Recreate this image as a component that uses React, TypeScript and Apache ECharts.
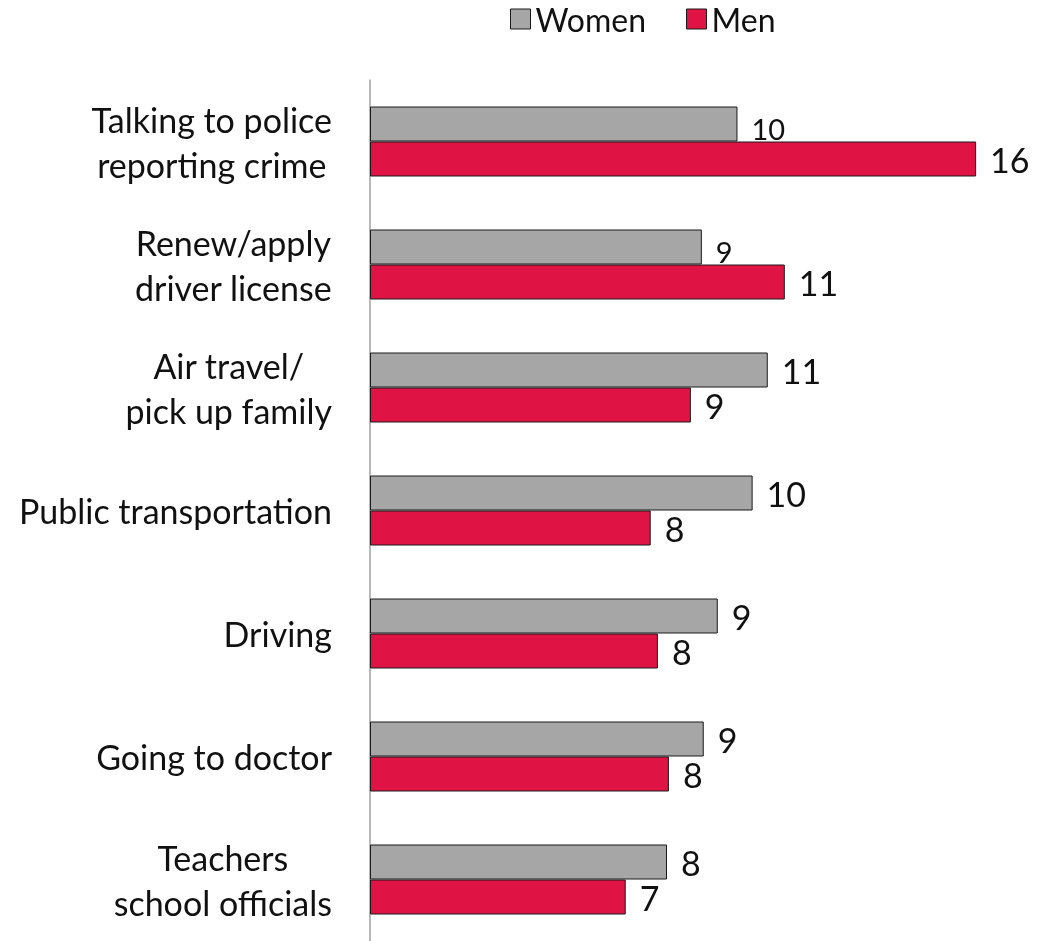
import React, { useEffect, useRef } from "react";
import * as echarts from "echarts";

const categories = [
  "Talking to police\nreporting crime",
  "Renew/apply\ndriver license",
  "Air travel/\npick up family",
  "Public transportation",
  "Driving",
  "Going to doctor",
  "Teachers\nschool officials",
];
const womenValues = [9.7, 8.76, 10.5, 10.1, 9.18, 8.81, 7.84];
const menValues = [16.0, 10.95, 8.47, 7.41, 7.6, 7.89, 6.75];
const womenLabels = ["10", "9", "11", "10", "9", "9", "8"];
const menLabels = ["16", "11", "9", "8", "8", "8", "7"];

const FONT = "Lato, 'Open Sans', sans-serif";

export default function App() {
  const ref = useRef<HTMLDivElement>(null);
  useEffect(() => {
    if (!ref.current) return;
    const chart = echarts.init(ref.current, undefined, { renderer: "svg" });
    const womenData = womenValues.map((v, i) => ({
      value: v,
      label: i < 2 ? { fontSize: 29, offset: [0, 4] } : undefined,
    }));
    chart.setOption({
      animation: false,
      textStyle: { fontFamily: FONT },
      legend: {
        left: 505,
        top: -2,
        itemWidth: 20,
        itemHeight: 20,
        itemGap: 40,
        itemStyle: { borderColor: "#1a1a1a", borderWidth: 1 },
        icon: "rect",
        textStyle: { fontSize: 32, color: "#111", fontFamily: FONT },
        data: ["Women", "Men"],
      },
      grid: { left: 370, top: 80, width: 644, height: 863, containLabel: false },
      xAxis: {
        type: "value",
        min: 0,
        max: 17,
        show: false,
      },
      yAxis: {
        type: "category",
        inverse: true,
        data: categories,
        axisLine: { show: true, lineStyle: { color: "#A0A0A0", width: 1.5 } },
        axisTick: { show: false },
        axisLabel: {
          margin: 38,
          align: "right",
          formatter: (v: string) =>
            v
              .split("\n")
              .map((l) => "{c|" + l + "}")
              .join("\n"),
          rich: {
            c: {
              align: "center",
              fontSize: 34,
              lineHeight: 45,
              color: "#111",
              fontFamily: FONT,
            },
          },
        },
      },
      series: [
        {
          name: "Women",
          type: "bar",
          data: womenData,
          barWidth: 35,
          barGap: "0%",
          itemStyle: { color: "#A6A6A6", borderColor: "#1a1a1a", borderWidth: 1 },
          label: {
            show: true,
            position: "right",
            distance: 14,
            fontSize: 34,
            color: "#111",
            fontFamily: FONT,
            formatter: (p: any) => womenLabels[p.dataIndex],
          },
        },
        {
          name: "Men",
          type: "bar",
          data: menValues,
          barWidth: 35,
          barGap: "0%",
          itemStyle: { color: "#E01345", borderColor: "#1a1a1a", borderWidth: 1 },
          label: {
            show: true,
            position: "right",
            distance: 14,
            fontSize: 34,
            color: "#111",
            fontFamily: FONT,
            formatter: (p: any) => menLabels[p.dataIndex],
          },
        },
      ],
    });
    return () => chart.dispose();
  }, []);
  return (
    <div
      ref={ref}
      style={{ position: "fixed", left: 0, top: 0, width: 1037, height: 941 }}
    />
  );
}
